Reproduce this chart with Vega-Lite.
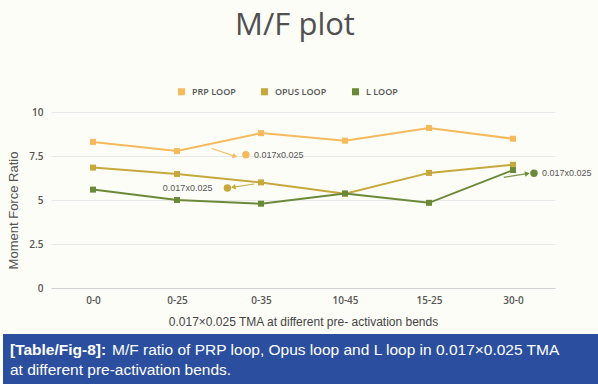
{
  "$schema": "https://vega.github.io/schema/vega-lite/v6.json",
  "background": "#fdfdf7",
  "padding": {"left": 3, "top": 10, "right": 0, "bottom": 0},
  "spacing": 46,
  "bounds": "flush",
  "center": true,
  "config": {"view": {"stroke": null}, "font": "Liberation Sans"},
  "datasets": {
    "loops": [
      {"series": "PRP LOOP", "i": 0, "bend": "0-0", "value": 8.3},
      {"series": "PRP LOOP", "i": 1, "bend": "0-25", "value": 7.78},
      {"series": "PRP LOOP", "i": 2, "bend": "0-35", "value": 8.8},
      {"series": "PRP LOOP", "i": 3, "bend": "10-45", "value": 8.37},
      {"series": "PRP LOOP", "i": 4, "bend": "15-25", "value": 9.09},
      {"series": "PRP LOOP", "i": 5, "bend": "30-0", "value": 8.48},
      {"series": "OPUS LOOP", "i": 0, "bend": "0-0", "value": 6.84},
      {"series": "OPUS LOOP", "i": 1, "bend": "0-25", "value": 6.48},
      {"series": "OPUS LOOP", "i": 2, "bend": "0-35", "value": 6.0},
      {"series": "OPUS LOOP", "i": 3, "bend": "10-45", "value": 5.36},
      {"series": "OPUS LOOP", "i": 4, "bend": "15-25", "value": 6.54},
      {"series": "OPUS LOOP", "i": 5, "bend": "30-0", "value": 7.0},
      {"series": "L LOOP", "i": 0, "bend": "0-0", "value": 5.59},
      {"series": "L LOOP", "i": 1, "bend": "0-25", "value": 5.0},
      {"series": "L LOOP", "i": 2, "bend": "0-35", "value": 4.79},
      {"series": "L LOOP", "i": 3, "bend": "10-45", "value": 5.37},
      {"series": "L LOOP", "i": 4, "bend": "15-25", "value": 4.84},
      {"series": "L LOOP", "i": 5, "bend": "30-0", "value": 6.7}
    ],
    "notes": [
      {"series": "PRP LOOP", "ax": 1.41, "ay": 7.94, "bx": 1.69, "by": 7.48, "cx": 1.82, "cy": 7.57, "label": "0.017x0.025"},
      {"series": "OPUS LOOP", "ax": 1.92, "ay": 5.91, "bx": 1.67, "by": 5.73, "cx": 1.6, "cy": 5.68, "label": "0.017x0.025"},
      {"series": "L LOOP", "ax": 4.89, "ay": 6.29, "bx": 5.17, "by": 6.5, "cx": 5.25, "cy": 6.52, "label": "0.017x0.025"}
    ],
    "caption": [
      {"line": 1, "col": "start", "part": "head", "text": "[Table/Fig-8]:"},
      {"line": 1, "col": "after", "part": "body", "text": "M/F ratio of PRP loop, Opus loop and L loop in 0.017×0.025 TMA"},
      {"line": 2, "col": "start", "part": "body", "text": "at different pre-activation bends."}
    ]
  },
  "vconcat": [
    {
      "width": 504,
      "height": 176,
      "title": {"text": "M/F plot", "font": "Open Sans", "fontSize": 31, "fontWeight": 400, "color": "#505050", "offset": 65, "dx": -8},
      "layer": [
        {
          "data": {"name": "loops"},
          "mark": {"type": "line", "strokeWidth": 2, "point": {"shape": "square", "size": 36, "filled": true}},
          "encoding": {
            "x": {
              "field": "i", "type": "quantitative",
              "scale": {"domain": [-0.5, 5.5], "nice": false, "zero": false},
              "axis": {
                "values": [0, 1, 2, 3, 4, 5],
                "labelExpr": "['0-0','0-25','0-35','10-45','15-25','30-0'][datum.value]",
                "title": "0.017×0.025 TMA at different pre- activation bends",
                "grid": false, "ticks": false, "domain": true, "domainColor": "#d2d2d2",
                "labelFont": "Open Sans", "labelFontWeight": 600, "labelFontSize": 10, "labelColor": "#555555", "labelPadding": 7,
                "titleFont": "Liberation Sans", "titleFontSize": 12, "titleFontWeight": "normal", "titleColor": "#444444", "titlePadding": 11
              }
            },
            "y": {
              "field": "value", "type": "quantitative",
              "scale": {"domain": [0, 10], "nice": false},
              "axis": {
                "values": [0, 2.5, 5, 7.5, 10], "format": ".2~f",
                "title": "Moment Force Ratio", "titleY": 98,
                "grid": true, "gridColor": "#e8e8e8", "domain": false, "ticks": false,
                "labelFont": "Open Sans", "labelFontWeight": 600, "labelFontSize": 10, "labelColor": "#555555", "labelPadding": 8,
                "titleFont": "Liberation Sans", "titleFontSize": 13, "titleFontWeight": "normal", "titleColor": "#555555", "titlePadding": 8
              }
            },
            "color": {
              "field": "series", "type": "nominal",
              "scale": {"domain": ["PRP LOOP", "OPUS LOOP", "L LOOP"], "range": ["#f6b95c", "#c7a83c", "#6b8a39"]},
              "legend": {
                "orient": "none", "legendX": 174, "legendY": -25, "direction": "horizontal", "title": null,
                "symbolType": "square", "symbolSize": 50, "symbolStrokeWidth": 0,
                "labelFont": "Open Sans", "labelFontWeight": 600, "labelFontSize": 9, "labelColor": "#555555",
                "columnPadding": 24, "labelOffset": 6
              }
            }
          }
        },
        {
          "data": {"name": "notes"},
          "mark": {"type": "rule", "strokeWidth": 1.2, "opacity": 0.9},
          "encoding": {
            "x": {"field": "ax", "type": "quantitative"},
            "y": {"field": "ay", "type": "quantitative"},
            "x2": {"field": "bx"},
            "y2": {"field": "by"},
            "color": {"field": "series", "type": "nominal", "legend": null}
          }
        },
        {
          "data": {"name": "notes"},
          "transform": [{"filter": "datum.series == 'PRP LOOP'"}],
          "mark": {"type": "point", "shape": "triangle-right", "size": 30, "filled": true, "opacity": 1, "angle": 18},
          "encoding": {
            "x": {"field": "bx", "type": "quantitative"},
            "y": {"field": "by", "type": "quantitative"},
            "color": {"field": "series", "type": "nominal", "legend": null}
          }
        },
        {
          "data": {"name": "notes"},
          "transform": [{"filter": "datum.series == 'OPUS LOOP'"}],
          "mark": {"type": "point", "shape": "triangle-right", "size": 30, "filled": true, "opacity": 1, "angle": 169},
          "encoding": {
            "x": {"field": "bx", "type": "quantitative"},
            "y": {"field": "by", "type": "quantitative"},
            "color": {"field": "series", "type": "nominal", "legend": null}
          }
        },
        {
          "data": {"name": "notes"},
          "transform": [{"filter": "datum.series == 'L LOOP'"}],
          "mark": {"type": "point", "shape": "triangle-right", "size": 30, "filled": true, "opacity": 1, "angle": -10},
          "encoding": {
            "x": {"field": "bx", "type": "quantitative"},
            "y": {"field": "by", "type": "quantitative"},
            "color": {"field": "series", "type": "nominal", "legend": null}
          }
        },
        {
          "data": {"name": "notes"},
          "mark": {"type": "point", "shape": "circle", "size": 55, "filled": true, "opacity": 1},
          "encoding": {
            "x": {"field": "cx", "type": "quantitative"},
            "y": {"field": "cy", "type": "quantitative"},
            "color": {"field": "series", "type": "nominal", "legend": null}
          }
        },
        {
          "data": {"name": "notes"},
          "transform": [{"filter": "datum.series != 'OPUS LOOP'"}],
          "mark": {"type": "text", "align": "left", "baseline": "middle", "dx": 8, "fontSize": 9, "color": "#555555", "font": "Liberation Sans"},
          "encoding": {
            "x": {"field": "cx", "type": "quantitative"},
            "y": {"field": "cy", "type": "quantitative"},
            "text": {"field": "label"}
          }
        },
        {
          "data": {"name": "notes"},
          "transform": [{"filter": "datum.series == 'OPUS LOOP'"}],
          "mark": {"type": "text", "align": "right", "baseline": "middle", "dx": -15, "fontSize": 9, "color": "#555555", "font": "Liberation Sans"},
          "encoding": {
            "x": {"field": "cx", "type": "quantitative"},
            "y": {"field": "cy", "type": "quantitative"},
            "text": {"field": "label"}
          }
        }
      ]
    },
    {
      "width": 600,
      "height": 52,
      "view": {"fill": "#2b4f9e", "stroke": null},
      "data": {"name": "caption"},
      "encoding": {
        "x": {"field": "col", "type": "nominal", "scale": {"type": "point", "domain": ["start", "after"], "range": [7, 109], "padding": 0}, "axis": null},
        "y": {"field": "line", "type": "ordinal", "scale": {"type": "point", "padding": 0.8}, "axis": null},
        "text": {"field": "text"}
      },
      "layer": [
        {
          "transform": [{"filter": "datum.part == 'head'"}],
          "mark": {"type": "text", "align": "left", "baseline": "middle", "fontSize": 15.5, "fontWeight": "bold", "color": "#ffffff", "font": "Liberation Sans"}
        },
        {
          "transform": [{"filter": "datum.part == 'body'"}],
          "mark": {"type": "text", "align": "left", "baseline": "middle", "fontSize": 15.5, "color": "#ffffff", "font": "Liberation Sans"}
        }
      ]
    }
  ]
}
